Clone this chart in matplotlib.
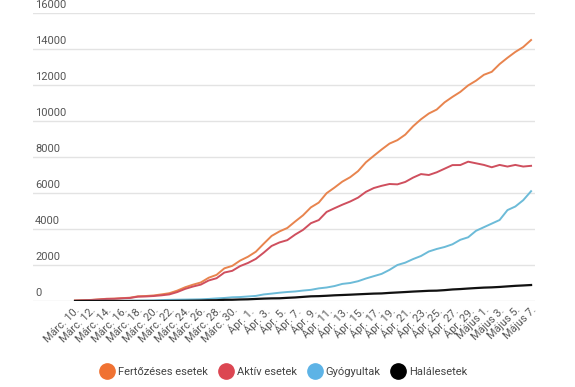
import matplotlib
matplotlib.use("Agg")
import matplotlib.pyplot as plt
from matplotlib.lines import Line2D
import matplotlib.transforms as mtransforms

plt.rcParams['font.family'] = ['Roboto', 'DejaVu Sans']

# Dates: Márc. 10. .. Május 7. (daily)
dates = ([f"Márc. {d}." for d in range(10, 32)] +
         [f"Ápr. {d}." for d in range(1, 31)] +
         [f"Május {d}." for d in range(1, 8)])

confirmed = [25, 45, 59, 89, 123, 131, 158, 184, 260, 277, 308, 367, 433, 576, 762, 906,
             1029, 1292, 1452, 1815, 1952, 2245,
             2460, 2738, 3183, 3613, 3864, 4057, 4417, 4761, 5202, 5467,
             5990, 6300, 6633, 6879, 7216, 7707, 8067, 8418, 8746, 8936,
             9242, 9710, 10096, 10417, 10635, 11036, 11339, 11616, 11978, 12240,
             12567, 12732, 13163, 13512, 13837, 14107, 14499]

active = [22, 39, 53, 80, 114, 122, 149, 168, 241, 252, 277, 315, 367, 496, 672, 803,
          911, 1140, 1265, 1581, 1677, 1940,
          2114, 2340, 2685, 3057, 3253, 3381, 3690, 3952, 4322, 4496,
          4949, 5154, 5350, 5528, 5744, 6065, 6276, 6400, 6500, 6480,
          6614, 6856, 7051, 7000, 7150, 7350, 7550, 7553, 7740, 7650,
          7560, 7430, 7560, 7470, 7560, 7470, 7510]

recovered = [3, 6, 6, 9, 9, 9, 9, 16, 19, 25, 31, 52, 64, 73, 79, 86,
             94, 115, 144, 169, 206, 220,
             252, 283, 365, 410, 460, 500, 530, 580, 620, 701,
             750, 830, 950, 1000, 1100, 1250, 1380, 1508, 1730, 2000,
             2130, 2330, 2500, 2750, 2890, 3000, 3150, 3400, 3540, 3900,
             4100, 4300, 4500, 5050, 5250, 5600, 6100]

deaths = [0, 0, 0, 0, 0, 0, 0, 0, 0, 0, 0, 0, 2, 7, 11, 17,
          24, 37, 43, 65, 69, 85,
          94, 115, 133, 146, 151, 176, 197, 229, 260, 270,
          291, 316, 333, 351, 372, 392, 411, 421, 451, 474,
          498, 524, 545, 567, 575, 603, 641, 663, 693, 720,
          744, 758, 781, 812, 842, 864, 888]

series_names = ["Fertőzéses esetek", "Aktív esetek", "Gyógyultak", "Halálesetek"]
line_colors = ["#E8844E", "#CF4F5E", "#6CBBD8", "#111111"]
legend_colors = ["#F07232", "#DC4652", "#5DB3E6", "#000000"]
y_ticks = [0, 2000, 4000, 6000, 8000, 10000, 12000, 14000, 16000]

W, H = 575, 387
fig = plt.figure(figsize=(W / 100, H / 100), dpi=100)
ax_left, ax_right = 33, 535
ax_top, ax_bottom = 13, 301
ax = fig.add_axes([ax_left / W, 1 - ax_bottom / H, (ax_right - ax_left) / W, (ax_bottom - ax_top) / H])

x = list(range(len(dates)))
ax.plot(x, confirmed, color=line_colors[0], lw=1.4, zorder=3)
ax.plot(x, active, color=line_colors[1], lw=1.4, zorder=3)
ax.plot(x, recovered, color=line_colors[2], lw=1.4, zorder=3)
ax.plot(x, deaths, color=line_colors[3], lw=1.6, zorder=4)

ax.set_xlim(-5.34, 58.5)
ax.set_ylim(0, 16000)
for s in ax.spines.values():
    s.set_visible(False)
ax.set_yticks(y_ticks)
ax.yaxis.grid(True, color="#e3e3e3", lw=1)
ax.tick_params(axis='y', length=0, labelleft=False)
ax.set_axisbelow(True)

trans = mtransforms.blended_transform_factory(ax.transAxes, ax.transData)
off = mtransforms.offset_copy(trans, fig=fig, x=0, y=3, units='dots')
for v in y_ticks:
    ax.text(0.004, v, str(v), transform=off, ha='left', va='bottom',
            fontsize=8, color="#555555")

ax.set_xticks(x[::2])
ax.set_xticklabels(dates[::2], rotation=45, ha='right', va='top',
                   rotation_mode='anchor', fontsize=7.8, color="#555555")
ax.tick_params(axis='x', length=0, pad=3)

handles = [Line2D([], [], marker='o', ls='', markersize=11, markerfacecolor=c,
                  markeredgecolor=c) for c in legend_colors]
fig.legend(handles, series_names, loc='center', bbox_to_anchor=(0.495, 1 - 372 / H),
           ncol=4, frameon=False, fontsize=8, handlelength=1.0, handletextpad=0.5,
           columnspacing=1.1, labelcolor="#444444")

fig.savefig("out.png", dpi=100)
